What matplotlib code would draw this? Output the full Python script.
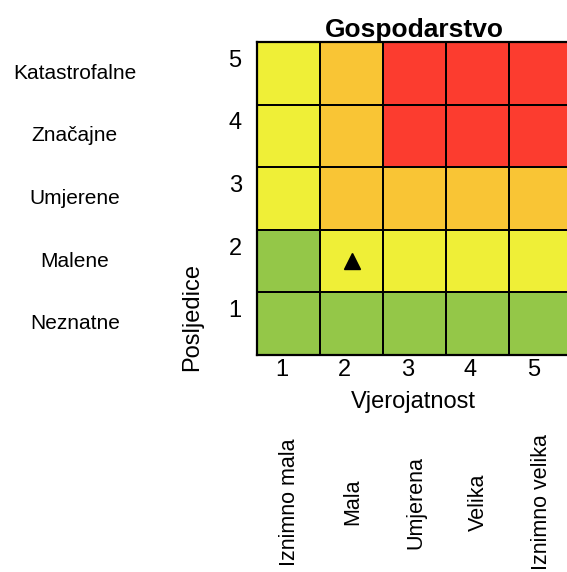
import matplotlib.pyplot as plt
import matplotlib.transforms as mtransforms
from matplotlib.colors import ListedColormap
import numpy as np

plt.rcParams['font.family'] = ['Liberation Sans', 'DejaVu Sans']

# risk levels per cell, rows = posljedice 1..5, cols = vjerojatnost 1..5
# 0 green, 1 yellow, 2 orange, 3 red
risk_levels = np.array([
    [0, 0, 0, 0, 0],
    [0, 1, 1, 1, 1],
    [1, 2, 2, 2, 2],
    [1, 2, 3, 3, 3],
    [1, 2, 3, 3, 3],
])
risk_colors = ['#94C748', '#EFEF37', '#F9C535', '#FC3C2F']

likelihood = [1, 2, 3, 4, 5]
consequence = [1, 2, 3, 4, 5]
likelihood_names = ['Iznimno mala', 'Mala', 'Umjerena', 'Velika', 'Iznimno velika']
consequence_names = ['Neznatne', 'Malene', 'Umjerene', 'Značajne', 'Katastrofalne']

# current assessment
point_x = [2]
point_y = [2]

W, H = 567, 572
fig = plt.figure(figsize=(W / 100, H / 100), dpi=100)
ax = fig.add_axes([257 / W, 1 - 355 / H, 315 / W, 313 / H])

edges = np.arange(0.5, 6.0, 1.0)
ax.pcolormesh(edges, edges, risk_levels, cmap=ListedColormap(risk_colors),
              vmin=-0.5, vmax=3.5, edgecolors='black', linewidth=1.3)
ax.plot(point_x, point_y, marker='^', color='black', markersize=12, linestyle='none')

ax.set_xlim(0.5, 5.5)
ax.set_ylim(0.5, 5.5)
for s in ax.spines.values():
    s.set_linewidth(1.6)
    s.set_color('black')

ax.set_xticks(likelihood)
ax.set_xticklabels([str(v) for v in likelihood], fontsize=17)
ax.set_yticks(consequence)
ax.set_yticklabels([str(v) for v in consequence], fontsize=17)
ax.tick_params(axis='x', length=0, pad=3)
ax.tick_params(axis='y', length=0, pad=11)
dx = mtransforms.ScaledTranslation(-7 / 100, 0, fig.dpi_scale_trans)
for lab in ax.get_xticklabels():
    lab.set_transform(lab.get_transform() + dx)
dy = mtransforms.ScaledTranslation(0, 15 / 100, fig.dpi_scale_trans)
for lab in ax.get_yticklabels():
    lab.set_transform(lab.get_transform() + dy)

ax.text(0.497, -0.15, 'Vjerojatnost', transform=ax.transAxes,
        ha='center', va='center', fontsize=17)
ax.text(-0.207, 0.12, 'Posljedice', transform=ax.transAxes, rotation=90,
        ha='center', va='center', fontsize=17)
ax.set_title('Gospodarstvo', fontsize=19, fontweight='bold', pad=1)

for y, name in zip(consequence, consequence_names):
    ax.text(-0.578, y, name, transform=ax.get_yaxis_transform(),
            ha='center', va='center', fontsize=15)
for x, name in zip(likelihood, likelihood_names):
    ax.text(x + 0.02, -0.47, name, transform=ax.get_xaxis_transform(), rotation=90,
            ha='center', va='center', fontsize=15.5)

fig.savefig('out.png', dpi=100)
